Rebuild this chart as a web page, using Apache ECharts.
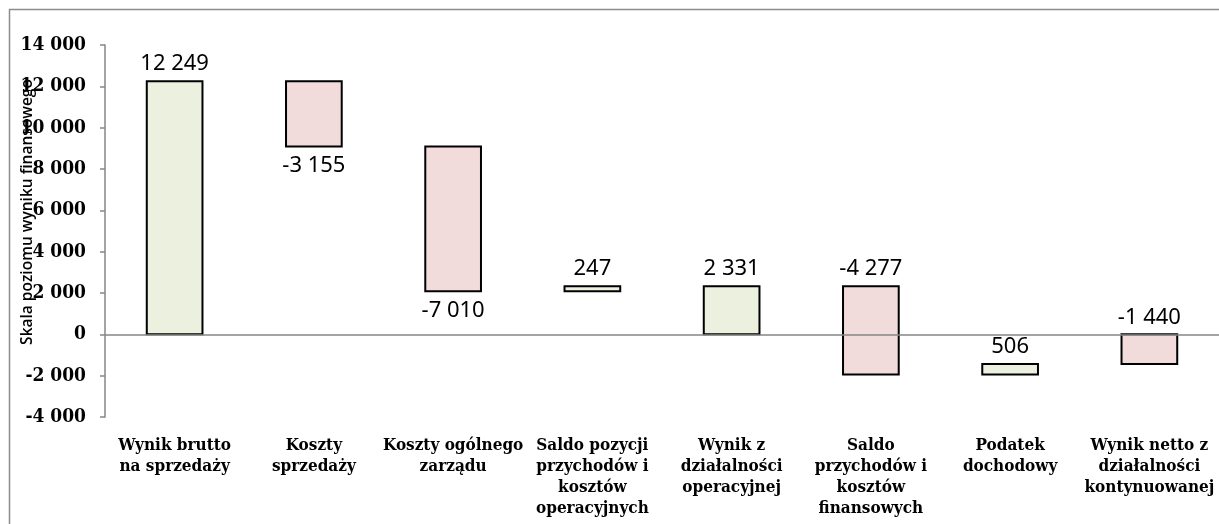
<!DOCTYPE html>
<html>
<head>
<meta charset="utf-8">
<script src="https://cdn.jsdelivr.net/npm/echarts@6/dist/echarts.min.js"></script>
<style>html,body{margin:0;padding:0;background:#fff}#c{width:1219px;height:524px}</style>
</head>
<body>
<div id="c"></div>
<script>
// ---- data ----
var categories = [
  "Wynik brutto\nna sprzedaży",
  "Koszty\nsprzedaży",
  "Koszty ogólnego\nzarządu",
  "Saldo pozycji\nprzychodów i\nkosztów\noperacyjnych",
  "Wynik z\ndziałalności\noperacyjnej",
  "Saldo\nprzychodów i\nkosztów\nfinansowych",
  "Podatek\ndochodowy",
  "Wynik netto z\ndziałalności\nkontynuowanej"
];
var values = [12249, -3155, -7010, 247, 2331, -4277, 506, -1440];
var isTotal = [true, false, false, false, true, false, false, true];
var yTicks = [-4000, -2000, 0, 2000, 4000, 6000, 8000, 10000, 12000, 14000];
var axisTitle = "Skala poziomu wyniku finansowego";

// ---- build waterfall segments ----
var running = 0;
var segs = [];
for (var i = 0; i < values.length; i++) {
  var start = isTotal[i] ? 0 : running;
  var end = start + values[i];
  running = end;
  segs.push([i, start, end, values[i]]);
}
var labelBelow = {1: true, 2: true};

function fmt(v) {
  var s = Math.abs(v).toString().replace(/\B(?=(\d{3})+(?!\d))/g, " ");
  return (v < 0 ? "-" : "") + s;
}

var serif = "'DejaVu Serif Condensed', 'DejaVu Serif', serif";
var chart = echarts.init(document.getElementById('c'), null, {renderer: 'canvas'});
var option = {
  backgroundColor: '#ffffff',
  animation: false,
  grid: {left: 105, right: 0, top: 45, bottom: 107, containLabel: false},
  xAxis: {
    type: 'category',
    data: categories,
    axisLine: {show: false},
    axisTick: {show: false},
    axisLabel: {
      interval: 0, margin: 18,
      fontFamily: serif, fontWeight: 'bold', fontSize: 17,
      lineHeight: 21, color: '#000'
    }
  },
  yAxis: {
    type: 'value',
    min: yTicks[0], max: yTicks[yTicks.length - 1], interval: 2000,
    axisLine: {show: true, lineStyle: {color: '#868686', width: 1.5}},
    axisTick: {show: true, length: 5, lineStyle: {color: '#868686', width: 1.5}},
    splitLine: {show: false},
    axisLabel: {
      margin: 19, formatter: function (v) { return fmt(v); },
      fontFamily: serif, fontWeight: 'bold', fontSize: 19, color: '#000'
    }
  },
  graphic: [
    {type: 'rect', shape: {x: 9.5, y: 9.5, width: 1230, height: 540},
     style: {fill: 'none', stroke: '#8c8c8c', lineWidth: 1.5}, silent: true, z: -1},
    {type: 'text', x: 28, y: 212, rotation: Math.PI / 2,
     style: {text: axisTitle, fontFamily: 'Open Sans', fontWeight: 600, fontSize: 15.5,
             fill: '#000', align: 'center', verticalAlign: 'middle'}, z: 10}
  ],
  series: [
    {
      type: 'line', data: [], silent: true,
      markLine: {
        symbol: 'none', silent: true, label: {show: false},
        lineStyle: {color: '#868686', width: 1.5, type: 'solid'},
        data: [{yAxis: 0}]
      }
    },
    {
      type: 'custom',
      data: segs,
      encode: {x: 0, y: [1, 2]},
      renderItem: function (params, api) {
        var idx = api.value(0), s = api.value(1), e = api.value(2), v = api.value(3);
        var p1 = api.coord([idx, s]);
        var p2 = api.coord([idx, e]);
        var w = api.size([1, 0])[0] * 0.4;
        var top = Math.min(p1[1], p2[1]);
        var bot = Math.max(p1[1], p2[1]);
        var below = !!labelBelow[idx];
        return {
          type: 'group',
          children: [
            {type: 'rect',
             shape: {x: p1[0] - w / 2, y: top, width: w, height: Math.max(bot - top, 1)},
             style: {fill: v >= 0 ? '#EBF1DE' : '#F2DCDB', stroke: '#000', lineWidth: 2}},
            {type: 'text',
             x: p1[0], y: below ? bot + 19 : top - 17,
             style: {text: fmt(v), fontFamily: 'Noto Sans', fontSize: 22, fill: '#000',
                     align: 'center', verticalAlign: 'middle'}}
          ]
        };
      }
    }
  ]
};
chart.setOption(option);
</script>
</body>
</html>
